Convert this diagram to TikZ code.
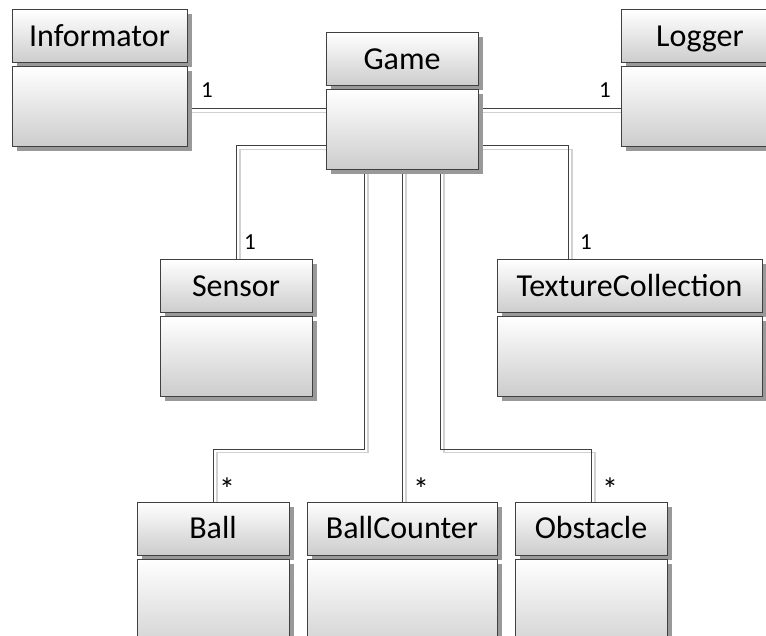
\documentclass[tikz,border=0pt]{standalone}
\usepackage{fontspec}
\setmainfont{Carlito}
\usetikzlibrary{shadows,backgrounds}

\tikzset{
  cls/.style={rectangle, anchor=north west, inner sep=0pt, outer sep=0pt,
    draw=black!75, line width=1pt, top color=white, bottom color=black!20,
    drop shadow={shadow xshift=4.5pt, shadow yshift=-4.5pt, fill=black!40, opacity=1},
    font=\fontsize{32}{38}\selectfont, text height=22pt, text depth=2pt},
  assoc/.style={draw=black!75, line width=1pt,
    preaction={draw=black!18, line width=1.2pt, transform canvas={shift={(4pt,-3.5pt)}}}},
  mult/.style={font=\fontsize{23}{27}\selectfont, inner sep=0pt},
  many/.style={font=\fontsize{32}{36}\selectfont, inner sep=0pt}
}

% classbox: name, label, x, header top, width, header height, body top, body height
\newcommand{\classbox}[8]{%
  \node[cls, minimum width=#5pt, minimum height=#6pt] (#1H) at (#3,#4) {#2};
  \node[cls, minimum width=#5pt, minimum height=#8pt] (#1B) at (#3,#7) {};
}

\begin{document}
\begin{tikzpicture}[x=1pt, y=-1pt]
\useasboundingbox (0,0) rectangle (766,636);
\clip (0,0) rectangle (766,636);

\classbox{info}{Informator}{12}{10}{175}{53}{67}{80}
\classbox{game}{Game}{326}{33}{152}{53}{90}{80}
\classbox{log}{Logger}{621}{10}{158}{53}{67}{80}
\classbox{sens}{Sensor}{160}{260}{152}{53}{317}{79}
\classbox{tex}{TextureCollection}{497}{260}{265}{53}{317}{79}
\classbox{ball}{Ball}{137}{502}{152}{53}{559}{100}
\classbox{cnt}{BallCounter}{307}{502}{190}{53}{559}{100}
\classbox{obst}{Obstacle}{515}{502}{152}{53}{559}{100}

\begin{scope}[on background layer]
  % one-to-one associations
  \draw[assoc] ([yshift=-2pt]infoB.east) -- ([yshift=-2pt]infoB.east -| gameB.west);
  \draw[assoc] ([yshift=-2pt]logB.west) -- ([yshift=-2pt]logB.west -| gameB.east);
  \draw[assoc] ([yshift=-16pt]gameB.west) -| (sensH.north);
  \draw[assoc] ([yshift=-16pt]gameB.east) -| ([xshift=-61.5pt]texH.north);
  % one-to-many associations
  \draw[assoc] ([xshift=-38pt]gameB.south) -- ++(0,279) -| (ballH.north);
  \draw[assoc] (gameB.south) -- (cntH.north);
  \draw[assoc] ([xshift=38pt]gameB.south) -- ++(0,279) -| (obstH.north);
\end{scope}

% multiplicities
\node[mult] (m1) at (207,90) {1};
\node[mult] (m2) at (605,90) {1};
\node[mult] (m3) at (250,242) {1};
\node[mult] (m4) at (586,242) {1};
\node[many] (m5) at (227,489) {*};
\node[many] (m6) at (421,489) {*};
\node[many] (m7) at (610,489) {*};
\end{tikzpicture}
\end{document}
